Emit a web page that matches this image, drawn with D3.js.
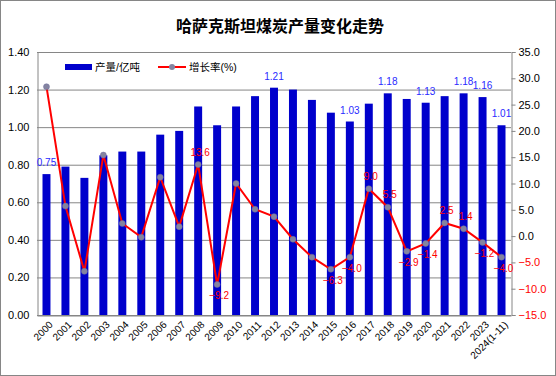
<!DOCTYPE html>
<html><head><meta charset="utf-8">
<script src="https://cdn.jsdelivr.net/npm/d3@7"></script>
<style>body{margin:0;background:#fff}svg{display:block}text{font-family:"Liberation Sans","Noto Sans CJK SC",sans-serif}</style>
</head><body><svg id="c" width="556" height="376"></svg>
<script>
const categories = ["2000","2001","2002","2003","2004","2005","2006","2007","2008","2009","2010","2011","2012","2013","2014","2015","2016","2017","2018","2019","2020","2021","2022","2023","2024(1-11)"];
const output = [0.75,0.79,0.73,0.85,0.87,0.87,0.96,0.98,1.11,1.01,1.11,1.165,1.21,1.20,1.145,1.077,1.03,1.125,1.18,1.15,1.13,1.165,1.18,1.16,1.01];
const growth = [28.4,5.7,-6.7,15.4,2.4,-0.2,11.2,1.8,13.6,-9.2,10.0,5.1,3.7,-0.6,-4.0,-6.3,-4.0,9.0,5.5,-2.9,-1.4,2.5,1.4,-1.2,-4.0];
const outputLabelIdx = [0,12,16,18,20,22,23,24];
const growthLabelIdx = [8,9,15,16,17,18,19,20,21,22,23,24];
const leftTicks = [0,0.2,0.4,0.6,0.8,1.0,1.2,1.4];
const rightTicks = [-15,-10,-5,0,5,10,15,20,25,30,35];
const title = "哈萨克斯坦煤炭产量变化走势";
const legendLabels = ["产量/亿吨","增长率(%)"];

const svg = d3.select("#c");
const L=37, R=511, T=52, B=315;
svg.append("rect").attr("x",0.5).attr("y",0.5).attr("width",555).attr("height",375).attr("fill","#fff").attr("stroke","#868686");
svg.append("text").attr("x",280).attr("y",32).attr("text-anchor","middle").attr("font-size",16).attr("font-weight","bold").attr("fill","#000").text(title);

const x = d3.scaleBand().domain(categories).range([L,R]).paddingInner(0.58).paddingOuter(0.29);
const y = d3.scaleLinear().domain([0,1.4]).range([B,T]);
const y2 = d3.scaleLinear().domain([-15,35]).range([B,T]);

// gridlines
svg.append("g").selectAll("line").data(leftTicks).join("line")
  .attr("x1",L).attr("x2",R).attr("y1",d=>y(d)+0.5).attr("y2",d=>y(d)+0.5).attr("stroke","#868686");

// left axis
const ga = svg.append("g").attr("transform",`translate(${L+0.5},0)`).call(d3.axisLeft(y).tickValues(leftTicks).tickFormat(d3.format(".2f")).tickSize(0).tickPadding(8));
ga.select(".domain").attr("stroke","#868686");
ga.selectAll("text").attr("font-size",11).attr("fill","#000").attr("font-family","Liberation Sans, sans-serif");

// right axis
const gr = svg.append("g").attr("transform",`translate(${R+0.5},0)`).call(d3.axisRight(y2).tickValues(rightTicks).tickFormat(d3.format(".1f")).tickSize(4).tickPadding(3));
gr.select(".domain").attr("stroke","#868686");
gr.selectAll("line").attr("stroke","#868686");
gr.selectAll("text").attr("font-size",11).attr("fill",d=>d<0?"#ff0000":"#000").attr("font-family","Liberation Sans, sans-serif");

// bottom axis
const gb = svg.append("g").attr("transform",`translate(0,${B+0.5})`).call(d3.axisBottom(x).tickSize(0).tickPadding(6));
gb.select(".domain").attr("stroke","#868686");
gb.selectAll("text").attr("font-size",10).attr("fill","#000").attr("text-anchor","end")
  .attr("transform","rotate(-45)").attr("dx","-0.2em").attr("dy","0.6em");

// bars
svg.append("g").selectAll("rect").data(output).join("rect")
  .attr("x",(d,i)=>x(categories[i])).attr("width",x.bandwidth())
  .attr("y",d=>y(d)).attr("height",d=>B-y(d)).attr("fill","#0000CC");

// bar labels
svg.append("g").selectAll("text").data(outputLabelIdx).join("text")
  .attr("x",i=>x(categories[i])+x.bandwidth()/2).attr("y",i=>y(output[i])-8)
  .attr("text-anchor","middle").attr("font-size",10).attr("fill","#2a2aff")
  .text(i=>d3.format(".2f")(output[i]));

// line
const cx = i=>x(categories[i])+x.bandwidth()/2;
svg.append("path").datum(growth).attr("fill","none").attr("stroke","#ff0000").attr("stroke-width",2)
  .attr("d",d3.line().x((d,i)=>cx(i)).y(d=>y2(d)));
svg.append("g").selectAll("circle").data(growth).join("circle")
  .attr("cx",(d,i)=>cx(i)).attr("cy",d=>y2(d)).attr("r",3).attr("fill","#8484a0").attr("stroke","#7070a0").attr("stroke-width",0.5);

// line labels
svg.append("g").selectAll("text").data(growthLabelIdx).join("text")
  .attr("x",i=>cx(i)+2).attr("y",i=>growth[i]>=0? y2(growth[i])-9 : y2(growth[i])+15)
  .attr("text-anchor","middle").attr("font-size",10).attr("fill","#ff0000")
  .text(i=>d3.format(".1f")(growth[i]));

// legend
const lg = svg.append("g");
lg.append("rect").attr("x",65).attr("y",64).attr("width",27).attr("height",6).attr("fill","#0000CC");
lg.append("text").attr("x",95).attr("y",71).attr("font-size",10.5).attr("fill","#000").text(legendLabels[0]);
lg.append("line").attr("x1",158).attr("x2",186).attr("y1",67).attr("y2",67).attr("stroke","#ff0000").attr("stroke-width",2);
lg.append("circle").attr("cx",172).attr("cy",67).attr("r",3).attr("fill","#8484a0");
lg.append("text").attr("x",189).attr("y",71).attr("font-size",10.5).attr("fill","#000").text(legendLabels[1]);
</script></body></html>
